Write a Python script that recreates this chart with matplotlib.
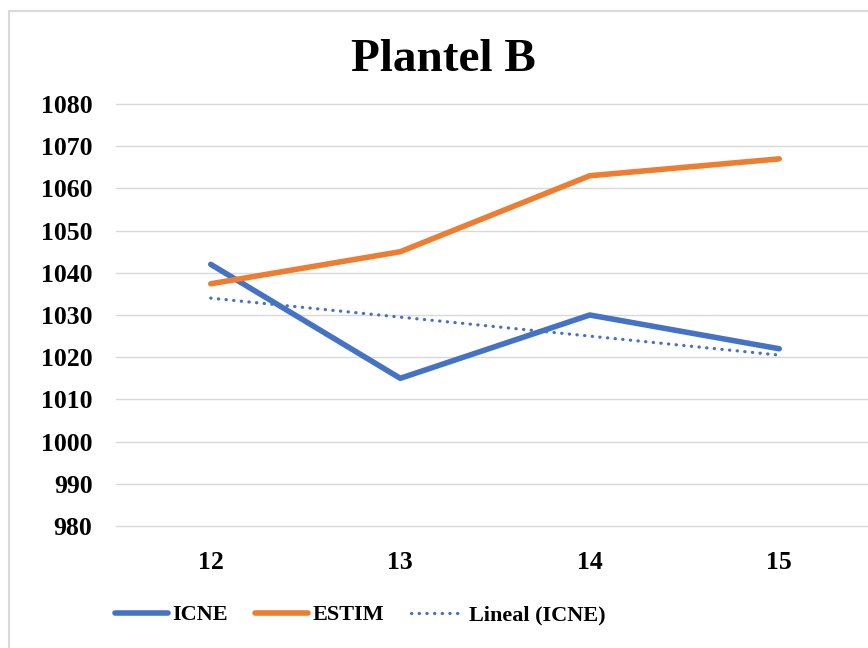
import matplotlib.pyplot as plt
import numpy as np
from matplotlib.patches import Rectangle

plt.rcParams['font.family'] = ['Liberation Serif', 'DejaVu Serif']
plt.rcParams['font.weight'] = 'bold'

semanas = ['12', '13', '14', '15']
icne = [1042, 1015, 1030, 1022]
estim = [1037.4, 1045, 1063, 1067]

x = np.arange(len(semanas))
# tendencia lineal de ICNE
m, b = np.polyfit(x, icne, 1)
tendencia = m * x + b

fig = plt.figure(figsize=(8.68, 6.48), dpi=100)
fig.patches.append(Rectangle((9 / 868, -0.05), 1.0, 1 - 11 / 648 + 0.05,
                             transform=fig.transFigure, fill=False,
                             edgecolor='#D9D9D9', linewidth=1.5))

ax = fig.add_axes([116 / 868, 122 / 648, 758 / 868, 422 / 648])
ax.plot(x, icne, color='#4472C4', lw=4, solid_capstyle='round', label='ICNE')
ax.plot(x, estim, color='#ED7D31', lw=4, solid_capstyle='round', label='ESTIM')
ax.plot(x, tendencia, color='#4472C4', lw=2.3, linestyle=(0, (0.1, 2.3)),
        dash_capstyle='round', label='Lineal (ICNE)')

ax.set_xlim(-0.5, len(semanas) - 0.5)
ax.set_ylim(980, 1080)
ax.set_yticks(np.arange(980, 1081, 10))
ax.set_xticks(x)
ax.set_xticklabels(semanas)
ax.tick_params(axis='both', length=0, labelsize=18.5)
ax.tick_params(axis='y', pad=17)
ax.tick_params(axis='x', pad=18)
ax.grid(axis='y', color='#D9D9D9', lw=1)
for gl in ax.get_ygridlines():
    gl.set_clip_on(False)
ax.set_axisbelow(True)
for s in ax.spines.values():
    s.set_visible(False)

fig.text(443 / 868, 1 - 60 / 648, 'Plantel B', ha='center', va='center',
         fontsize=34, fontweight='bold')

ax.legend(loc='center', bbox_to_anchor=(360 / 868, 1 - 615 / 648),
          bbox_transform=fig.transFigure, ncol=3, frameon=False,
          fontsize=16, handlelength=2.4, handletextpad=0.2, columnspacing=1.2)

fig.savefig('out.png', dpi=100)
